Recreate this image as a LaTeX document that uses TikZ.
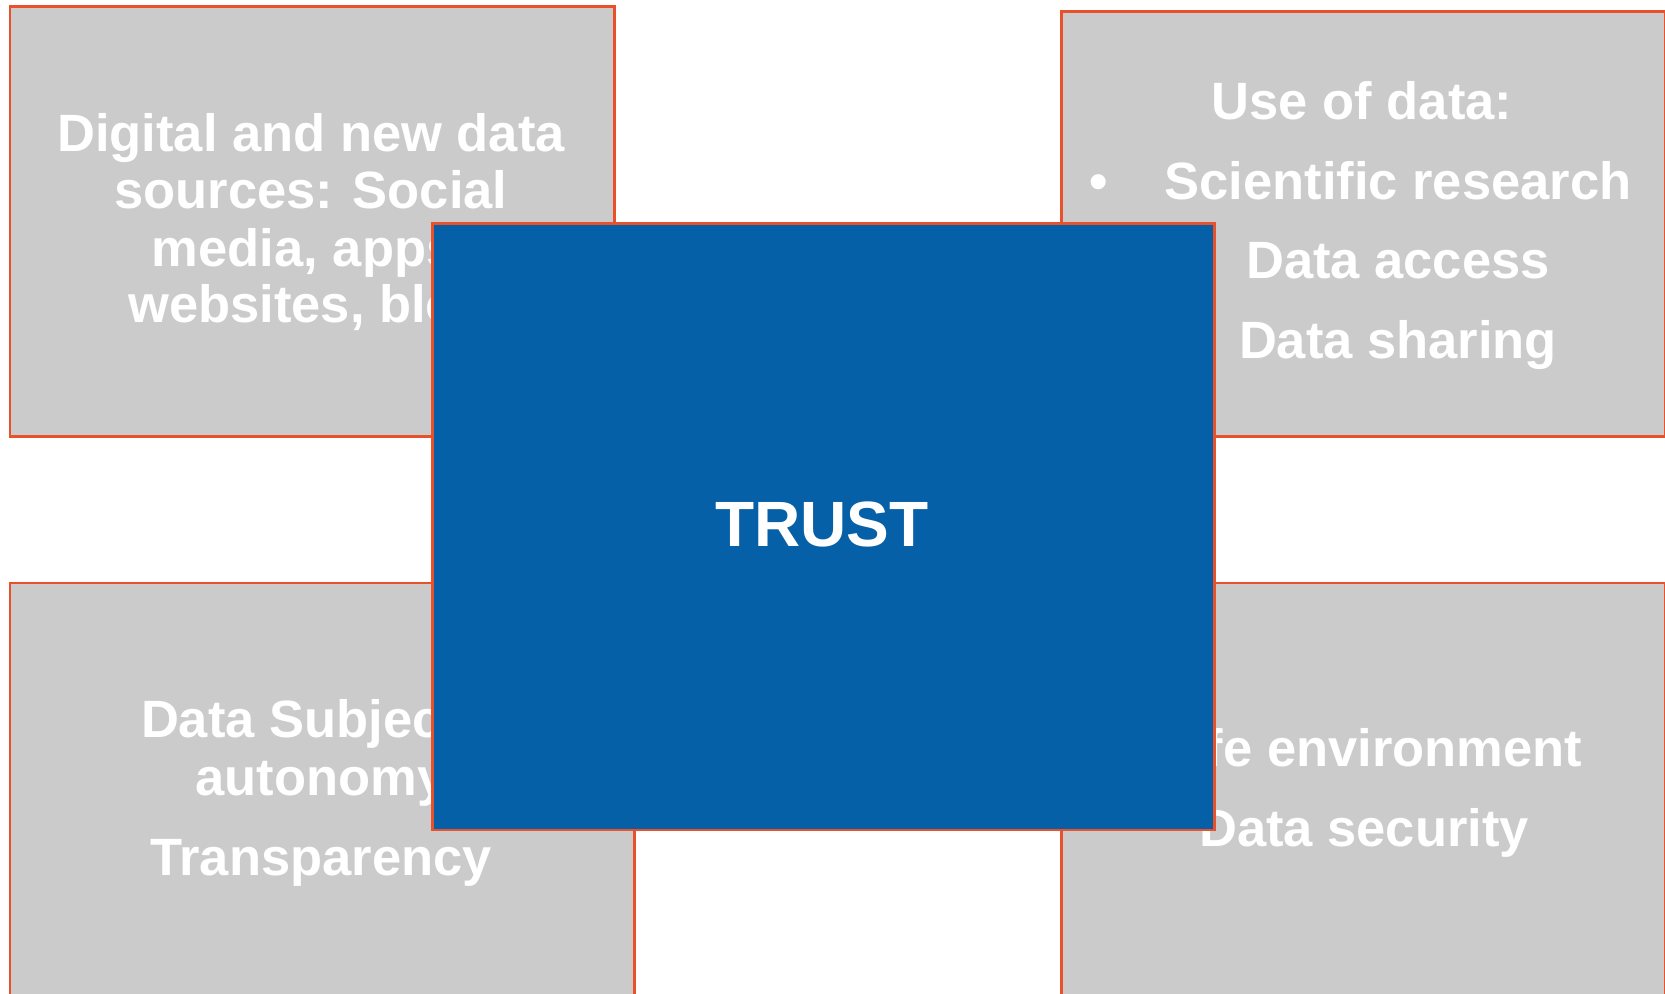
\documentclass[tikz,border=0pt]{standalone}
\usepackage{fontspec}
\setmainfont{Liberation Sans}
\definecolor{boxgray}{HTML}{CBCBCB}
\definecolor{edgeorange}{HTML}{E9512B}
\definecolor{trustblue}{HTML}{0560A8}
\tikzset{
  graybox/.style={draw=edgeorange, fill=boxgray, line width=1.25pt, inner sep=0pt, anchor=north west},
  bluebox/.style={draw=edgeorange, fill=trustblue, line width=1.25pt, inner sep=0pt, anchor=north west},
  boxtext/.style={text=white, inner sep=0pt, anchor=base, font=\bfseries\fontsize{26.25}{28.5}\selectfont},
  trusttext/.style={text=white, inner sep=0pt, anchor=base, font=\bfseries\fontsize{32}{36}\selectfont}
}
\begin{document}
\begin{tikzpicture}[x=0.5pt,y=-0.5pt]
\useasboundingbox (0,0) rectangle (1665,994);
\fill[white] (0,0) rectangle (1665,994);
% gray boxes
\node[graybox, minimum width=604.5pt*0.5, minimum height=430pt*0.5] (tl) at (8.5,5.5) {};
\node[graybox, minimum width=603.5pt*0.5, minimum height=425pt*0.5] (tr) at (1060,10.5) {};
\node[graybox, minimum width=624.5pt*0.5, minimum height=440pt*0.5] (bl) at (8.5,581.5) {};
\node[graybox, minimum width=603.5pt*0.5, minimum height=440pt*0.5] (br) at (1060,581.5) {};
% texts top left
\node[boxtext] (tl1) at (311,152) {Digital and new data};
\node[boxtext] (tl2) at (311,209) {sources: Social};
\node[boxtext] (tl3) at (311,267) {media, apps,};
\node[boxtext, anchor=base west] (tl4) at (128,323) {websites, blogs};
% texts top right
\node[boxtext] (tr0) at (1362,120) {Use of data:};
\node[boxtext] (trb1) at (1099,200) {•};
\node[boxtext] (tr1) at (1398,200) {Scientific research};
\node[boxtext] (trb2) at (1181,279) {•};
\node[boxtext] (tr2) at (1398,279) {Data access};
\node[boxtext] (trb3) at (1174,359) {•};
\node[boxtext] (tr3) at (1398,359) {Data sharing};
% texts bottom left
\node[boxtext] (bl1) at (321,737) {Data Subject's};
\node[boxtext] (bl2) at (321,795) {autonomy};
\node[boxtext] (bl3) at (321,875) {Transparency};
% texts bottom right
\node[boxtext] (br1) at (1362,766) {Safe environment};
\node[boxtext] (br2) at (1364,846) {Data security};
% central box
\node[bluebox, minimum width=782pt*0.5, minimum height=606pt*0.5] (trust) at (431,222.5) {};
\node[trusttext] (trustlabel) at (822,546) {TRUST};
\end{tikzpicture}
\end{document}
